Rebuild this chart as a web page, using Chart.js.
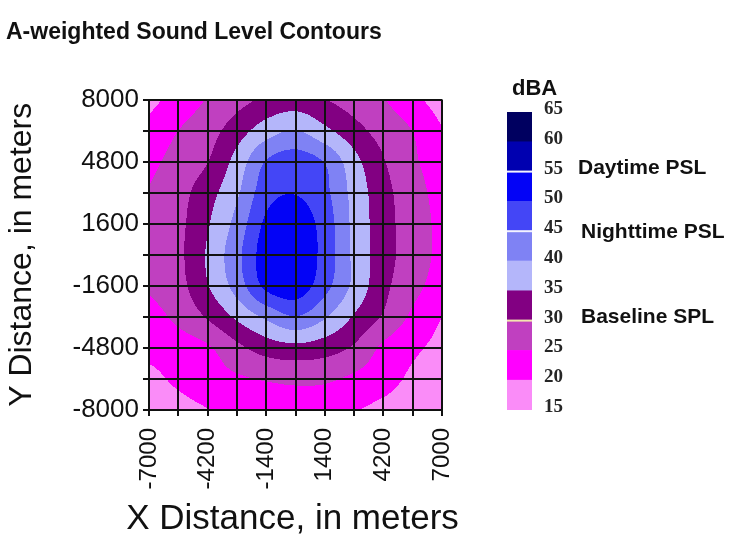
<!DOCTYPE html>
<html>
<head>
<meta charset="utf-8">
<script src="https://cdn.jsdelivr.net/npm/chart.js@4.4.1/dist/chart.umd.min.js"></script>
<style>
  html, body { margin: 0; padding: 0; background: #ffffff; }
  #wrap { position: relative; width: 745px; height: 548px; overflow: hidden; background: #ffffff; }
  #main { position: absolute; left: 0; top: 0; }
  #legend { position: absolute; left: 470px; top: 60px; }
</style>
</head>
<body>
<div id="wrap">
  <canvas id="main" width="745" height="548"></canvas>
  <canvas id="legend" width="275" height="380"></canvas>
</div>
<script>
// ---------------- data ----------------
const TITLE = 'A-weighted Sound Level Contours';
const X_TITLE = 'X Distance, in meters';
const Y_TITLE = 'Y Distance, in meters';

// grid node positions (meters)
const X_NODES = [-7000, -5600, -4200, -2800, -1400, 0, 1400, 2800, 4200, 5600, 7000];
const Y_NODES = [8000, 6400, 4800, 3200, 1600, 0, -1600, -3200, -4800, -6400, -8000];

// labelled ticks
const X_LABELED = [-7000, -4200, -1400, 1400, 4200, 7000];
const Y_LABELED = [8000, 4800, 1600, -1600, -4800, -8000];

// sound level (dBA) at each grid node, one row per Y node (top to bottom), columns follow X_NODES
const ROW_Y8000  = [18.5, 21.9, 25.3, 28.1, 30.8, 31.8, 30.0, 27.6, 25.2, 21.4, 17.5];
const ROW_Y6400  = [21.5, 25.0, 27.9, 32.6, 37.6, 40.2, 36.2, 31.8, 28.0, 24.9, 20.3];
const ROW_Y4800  = [23.7, 26.8, 29.9, 36.9, 45.3, 47.5, 44.7, 36.7, 30.4, 25.8, 22.5];
const ROW_Y3200  = [25.3, 28.2, 33.0, 39.2, 48.0, 49.8, 46.2, 38.3, 31.8, 26.9, 23.3];
const ROW_Y1600  = [26.5, 28.8, 34.5, 41.7, 51.0, 53.0, 47.8, 38.7, 32.2, 27.3, 23.8];
const ROW_Y0     = [26.2, 28.9, 35.6, 43.5, 52.5, 54.0, 48.1, 38.9, 32.2, 27.5, 23.7];
const ROW_YM1600 = [25.6, 28.3, 34.7, 42.1, 51.2, 53.0, 46.7, 38.8, 31.4, 26.6, 22.6];
const ROW_YM3200 = [23.0, 26.2, 30.5, 35.9, 41.0, 44.8, 40.5, 34.5, 29.4, 24.0, 20.0];
const ROW_YM4800 = [21.5, 22.5, 24.4, 28.7, 32.2, 33.5, 32.2, 29.3, 24.0, 21.0, 18.5];
const ROW_YM6400 = [18.5, 21.0, 23.0, 24.3, 25.4, 26.0, 25.8, 24.0, 22.0, 19.0, 17.0];
const ROW_YM8000 = [16.5, 18.0, 19.8, 21.0, 22.0, 22.5, 21.8, 20.3, 18.5, 17.0, 16.0];

// contour levels (dBA) and reference-level annotations
const LEVELS = [15, 20, 25, 30, 35, 40, 45, 50, 55, 60, 65];
const REF_LEVELS = [55, 45, 30];
const REF_NAMES = ['Daytime PSL', 'Nighttime PSL', 'Baseline SPL'];
const LEGEND_TITLE = 'dBA';

// ---------------- styles ----------------
const BAND_COLORS = ['#fa8cf8', '#ff00ff', '#c040c0', '#820082', '#b4b6fa',
                     '#7f82f4', '#4446f6', '#0303f6', '#0000b0', '#000060'];
const SANS = "'Liberation Sans', Arial, sans-serif";
const SERIF = "'Liberation Serif', 'Times New Roman', serif";

const GRID = [ROW_Y8000, ROW_Y6400, ROW_Y4800, ROW_Y3200, ROW_Y1600, ROW_Y0,
              ROW_YM1600, ROW_YM3200, ROW_YM4800, ROW_YM6400, ROW_YM8000];

function hexToRgb(h) {
  const n = parseInt(h.slice(1), 16);
  return [(n >> 16) & 255, (n >> 8) & 255, n & 255];
}
const BAND_RGB = BAND_COLORS.map(hexToRgb);

function locate(nodes, v) {
  // returns [index, fraction] of v along the node list (ascending or descending)
  const n = nodes.length;
  for (let i = 0; i < n - 1; i++) {
    const a = nodes[i], b = nodes[i + 1];
    const lo = Math.min(a, b), hi = Math.max(a, b);
    if (v >= lo && v <= hi) return [i, (v - a) / (b - a)];
  }
  if ((nodes[0] < nodes[n - 1]) === (v < nodes[0])) return [0, 0];
  return [n - 2, 1];
}

// smooth (Catmull-Rom) contouring of the node grid
function cr(p0, p1, p2, p3, t) {
  return p1 + 0.5 * t * (p2 - p0 + t * (2 * p0 - 5 * p1 + 4 * p2 - p3 + t * (3 * (p1 - p2) + p3 - p0)));
}
function nodeVal(j, i) {
  const nj = GRID.length, ni = GRID[0].length;
  // linear extrapolation beyond the edges keeps gradients at the border
  if (i < 0) return 2 * nodeVal(j, 0) - nodeVal(j, 1);
  if (i >= ni) return 2 * nodeVal(j, ni - 1) - nodeVal(j, ni - 2);
  if (j < 0) return 2 * nodeVal(0, i) - nodeVal(1, i);
  if (j >= nj) return 2 * nodeVal(nj - 1, i) - nodeVal(nj - 2, i);
  return GRID[j][i];
}
function levelAt(xv, yv) {
  const [i, fx] = locate(X_NODES, xv);
  const [j, fy] = locate(Y_NODES, yv);
  const rows = [];
  for (let dj = -1; dj <= 2; dj++) {
    rows.push(cr(nodeVal(j + dj, i - 1), nodeVal(j + dj, i), nodeVal(j + dj, i + 1), nodeVal(j + dj, i + 2), fx));
  }
  return cr(rows[0], rows[1], rows[2], rows[3], fy);
}

function bandIndex(v) {
  for (let k = LEVELS.length - 2; k >= 0; k--) {
    if (v >= LEVELS[k]) return k;
  }
  return 0;
}

// draws the filled contour bands under the grid, using the chart's scales
const contourPlugin = {
  id: 'contourFill',
  beforeDraw(chart) {
    const {ctx, chartArea: a, scales: {x, y}} = chart;
    const left = Math.round(a.left), top = Math.round(a.top);
    const w = Math.round(a.right) - left, h = Math.round(a.bottom) - top;
    const img = ctx.createImageData(w, h);
    const d = img.data;
    for (let py = 0; py < h; py++) {
      const yv = y.getValueForPixel(top + py + 0.5);
      for (let px = 0; px < w; px++) {
        const xv = x.getValueForPixel(left + px + 0.5);
        const c = BAND_RGB[bandIndex(levelAt(xv, yv))];
        const o = (py * w + px) * 4;
        d[o] = c[0]; d[o + 1] = c[1]; d[o + 2] = c[2]; d[o + 3] = 255;
      }
    }
    ctx.putImageData(img, left, top);
  },
  afterDraw(chart) {
    // x axis title, centred under the plot (wider than the axis itself)
    const {ctx, chartArea: a} = chart;
    ctx.save();
    ctx.fillStyle = '#111';
    ctx.font = '35px ' + SANS;
    ctx.textAlign = 'center';
    ctx.textBaseline = 'middle';
    ctx.fillText(X_TITLE, (a.left + a.right) / 2 - 3, 519);
    ctx.restore();
  }
};

Chart.defaults.font.family = SANS;

new Chart(document.getElementById('main'), {
  type: 'scatter',
  data: { datasets: [{ data: [], pointRadius: 0 }] },
  options: {
    responsive: false,
    animation: false,
    devicePixelRatio: 1,
    layout: { padding: { left: 6, right: 303, top: 0, bottom: 8 } },
    plugins: {
      legend: { display: false },
      tooltip: { enabled: false },
      title: {
        display: true, text: TITLE, align: 'start', color: '#111',
        font: { family: SANS, size: 23, weight: 'bold' },
        padding: { top: 19, bottom: 53 }
      }
    },
    scales: {
      x: {
        type: 'linear', min: X_NODES[0], max: X_NODES[X_NODES.length - 1],
        afterBuildTicks: s => { s.ticks = X_NODES.map(v => ({ value: v })); },
        afterFit: s => { s.height = 130; },
        ticks: {
          autoSkip: false, minRotation: 90, maxRotation: 90, padding: 12,
          color: '#111', font: { family: SANS, size: 24 },
          callback: v => (X_LABELED.includes(v) ? String(v) : '')
        },
        grid: { color: '#111', lineWidth: 2, tickLength: 6 },
        border: { color: '#111', width: 2 },
        title: { display: false }
      },
      y: {
        type: 'linear', min: Y_NODES[Y_NODES.length - 1], max: Y_NODES[0],
        afterBuildTicks: s => { s.ticks = Y_NODES.slice().reverse().map(v => ({ value: v })); },
        afterFit: s => { s.width = 143; },
        ticks: {
          autoSkip: false, padding: 4, color: '#111',
          font: { family: SANS, size: 26 },
          callback: v => (Y_LABELED.includes(v) ? String(v) : '')
        },
        grid: { color: '#111', lineWidth: 2, tickLength: 6 },
        border: { color: '#111', width: 2 },
        title: {
          display: true, text: Y_TITLE, color: '#111',
          font: { family: SANS, size: 32, lineHeight: 1 }, padding: { top: 0, bottom: 0 }
        }
      }
    }
  },
  plugins: [contourPlugin]
});

// ---------------- colour bar legend ----------------
const legendPlugin = {
  id: 'legendExtras',
  afterDraw(chart) {
    const {ctx, chartArea: a, scales: {y}} = chart;
    ctx.save();
    // separators at reference levels
    REF_LEVELS.forEach(lv => {
      const py = y.getPixelForValue(lv);
      ctx.strokeStyle = lv === 30 ? '#f3e6b0' : '#f4f4ff';
      ctx.lineWidth = 2;
      ctx.beginPath();
      ctx.moveTo(a.left, py);
      ctx.lineTo(a.right, py);
      ctx.stroke();
    });
    // legend title
    ctx.fillStyle = '#111';
    ctx.font = 'bold 22px ' + SANS;
    ctx.textAlign = 'left';
    ctx.textBaseline = 'alphabetic';
    ctx.fillText(LEGEND_TITLE, a.left + 5, a.top - 17);
    // annotations
    ctx.font = 'bold 21px ' + SANS;
    ctx.textBaseline = 'middle';
    REF_LEVELS.forEach((lv, k) => {
      const dy = k === 1 ? 1 : -3;
      ctx.fillText(REF_NAMES[k], a.right + 46 + (k > 0 ? 3 : 0), y.getPixelForValue(lv) + dy);
    });
    ctx.restore();
  }
};

new Chart(document.getElementById('legend'), {
  type: 'bar',
  data: {
    labels: [''],
    datasets: BAND_COLORS.map((c, k) => ({
      data: [[LEVELS[k], LEVELS[k + 1]]],
      backgroundColor: c,
      borderWidth: 0,
      grouped: false,
      barPercentage: 1,
      categoryPercentage: 1
    }))
  },
  options: {
    responsive: false,
    animation: false,
    devicePixelRatio: 1,
    layout: { padding: { left: 37, right: 0, top: 52, bottom: 30 } },
    plugins: { legend: { display: false }, tooltip: { enabled: false }, title: { display: false } },
    scales: {
      x: { display: false },
      y: {
        position: 'right', min: LEVELS[0], max: LEVELS[LEVELS.length - 1],
        afterBuildTicks: s => { s.ticks = LEVELS.map(v => ({ value: v })); },
        afterFit: s => { s.width = 213; },
        grid: { display: false, drawTicks: false },
        border: { display: false },
        ticks: {
          padding: 12, color: '#262626', labelOffset: -3,
          font: { family: SERIF, size: 19, weight: 'bold' }
        }
      }
    }
  },
  plugins: [legendPlugin]
});
</script>
</body>
</html>
